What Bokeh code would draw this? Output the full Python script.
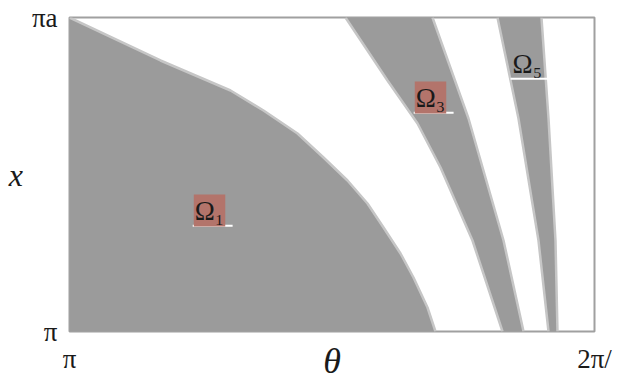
from bokeh.plotting import figure
from bokeh.models import Label, FixedTicker, Range1d
from bokeh.embed import file_html
from bokeh.resources import INLINE

# theta / pi on the horizontal axis, normalised x on the vertical axis
x_ticks = [1, 2]
x_tick_labels = {1: "π", 2: "2π/"}
y_ticks = [0, 1]
y_tick_labels = {0: "π", 1: "πa"}

# Omega_1 boundary (region lies to the lower-left)
omega1_x = [1.0, 1.1733, 1.3067, 1.3695, 1.4343, 1.4838, 1.5295, 1.5676, 1.5981, 1.6305, 1.6552, 1.6819, 1.6971]
omega1_y = [1.0, 0.8631, 0.7675, 0.7038, 0.6306, 0.5541, 0.4809, 0.4076, 0.3312, 0.2484, 0.1720, 0.0764, 0.0]

# Omega_3 band
omega3_left_x = [1.5257, 1.6057, 1.6629, 1.7067, 1.7676, 1.8248]
omega3_left_y = [1.0, 0.7994, 0.6624, 0.5223, 0.2898, 0.0]
omega3_right_x = [1.6914, 1.7600, 1.8267, 1.8648]
omega3_right_y = [1.0, 0.6783, 0.2898, 0.0]

# Omega_5 band
omega5_left_x = [1.8152, 1.8552, 1.8933, 1.9124]
omega5_left_y = [1.0, 0.6783, 0.2898, 0.0]
omega5_right_x = [1.8990, 1.9124, 1.9257, 1.9295]
omega5_right_y = [1.0, 0.6783, 0.2898, 0.0]

# region labels
label_text = ["Ω₁", "Ω₃", "Ω₅"]
label_x = [1.2667, 1.6876, 1.8720]
label_y = [0.385, 0.745, 0.853]
label_bg = ["#b3746b", "#b3746b", None]

FILL = "#9b9b9b"
EDGE = "#c6c6c6"
SERIF = "Liberation Serif"

p = figure(width=629, height=383, x_range=Range1d(1, 2), y_range=Range1d(0, 1),
           output_backend="svg", toolbar_location=None,
           min_border_left=69, min_border_right=35, min_border_top=17, min_border_bottom=52)
p.background_fill_color = "white"
p.border_fill_color = "white"
p.outline_line_color = "#a0a0a0"
p.outline_line_width = 2
p.grid.visible = False

for ax in (p.xaxis, p.yaxis):
    ax.axis_line_color = None
    ax.major_tick_line_color = None
    ax.minor_tick_line_color = None
    ax.major_label_text_font = SERIF
    ax.major_label_text_font_size = "27px"
    ax.major_label_text_color = "#1a1a1a"
    ax.major_label_standoff = 6
    ax.axis_label_text_font = SERIF
    ax.axis_label_text_font_style = "italic"
    ax.axis_label_text_color = "#1a1a1a"

p.xaxis.ticker = FixedTicker(ticks=x_ticks)
p.xaxis.major_label_overrides = x_tick_labels
p.yaxis.ticker = FixedTicker(ticks=y_ticks)
p.yaxis.major_label_overrides = y_tick_labels

p.xaxis.axis_label = "θ"
p.xaxis.axis_label_text_font_size = "36px"
p.xaxis.axis_label_standoff = -36
p.yaxis.axis_label = "x"
p.yaxis.axis_label_text_font_size = "32px"
p.yaxis.axis_label_standoff = 6
p.yaxis.axis_label_orientation = "horizontal"

# Omega_1 region
xs1 = omega1_x + [omega1_x[0]]
ys1 = omega1_y + [omega1_y[-1]]
p.patch(xs1, ys1, fill_color=FILL, line_color=None)
p.line(omega1_x, omega1_y, line_color=EDGE, line_width=2.5)

# bands
for lx_, ly_, rx_, ry_ in ((omega3_left_x, omega3_left_y, omega3_right_x, omega3_right_y),
                           (omega5_left_x, omega5_left_y, omega5_right_x, omega5_right_y)):
    bx = lx_ + rx_[::-1]
    by = ly_ + ry_[::-1]
    p.patch(bx, by, fill_color=FILL, line_color=None)
    p.line(lx_, ly_, line_color=EDGE, line_width=2.5)
    p.line(rx_, ry_, line_color=EDGE, line_width=2.5)

# labels with white underline
for t, lx, ly, bg in zip(label_text, label_x, label_y, label_bg):
    lab = Label(x=lx, y=ly, text=t, text_font=SERIF, text_font_size="27px",
                text_color="#1a1a1a", text_align="center", text_baseline="middle",
                padding=1)
    if bg:
        lab.background_fill_color = bg
        lab.background_fill_alpha = 1.0
    p.add_layout(lab)
p.segment(x0=[v - 0.032 for v in label_x], x1=[v + 0.044 for v in label_x],
          y0=[v - 0.048 for v in label_y], y1=[v - 0.048 for v in label_y],
          line_color="white", line_width=2)

open("out.html", "w").write(file_html(p, INLINE))
